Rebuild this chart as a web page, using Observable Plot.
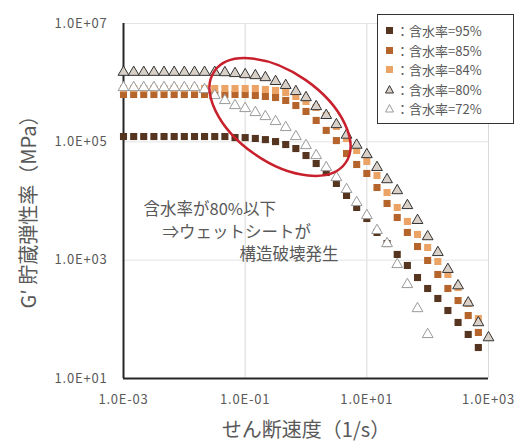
<!DOCTYPE html>
<html>
<head>
<meta charset="utf-8">
<script src="https://cdn.jsdelivr.net/npm/d3@7"></script>
<script src="https://cdn.jsdelivr.net/npm/@observablehq/plot@0.6"></script>
<style>
  body { margin: 0; background: #fff; }
  #wrap { position: relative; width: 516px; height: 446px; }
  .legend {
    position: absolute; left: 377px; top: 14px; width: 137px; height: 110px;
    border: 1.5px solid #333; background: #fff; box-sizing: border-box;
    font-family: "Noto Sans CJK JP", sans-serif; font-size: 13px; color: #595959;
    padding: 6px 0 0 6px;
  }
  .legend .row { display: flex; align-items: center; height: 19.5px; white-space: nowrap; }
  .legend svg { margin-right: 1px; }
</style>
</head>
<body>
<div id="wrap"></div>
<script>
// Shear rate sweep (1/s): 6 points per decade, 1e-3 .. 1e3
const shearRate = [0.001, 0.00147, 0.00215, 0.00316, 0.00464, 0.00681, 0.01, 0.0147, 0.0215, 0.0316,
  0.0464, 0.0681, 0.1, 0.147, 0.215, 0.316, 0.464, 0.681, 1, 1.47, 2.15, 3.16, 4.64, 6.81,
  10, 14.7, 21.5, 31.6, 46.4, 68.1, 100, 147, 215, 316, 464, 681, 1000];

// Storage modulus G' for each water content
const g95 = [1.23e5, 1.23e5, 1.23e5, 1.23e5, 1.23e5, 1.23e5, 1.23e5, 1.23e5, 1.23e5, 1.23e5, 1.23e5,
  1.18e5, 1.18e5, 1.14e5, 1.09e5, 1.01e5, 9.0e4, 7.7e4, 5.87e4, 4.3e4, 3.03e4, 1.98e4, 1.24e4,
  7.77e3, 5.06e3, 2.94e3, 1.91e3, 1.25e3, 813, 509, 332, 225, 141, 88.5, 55.5, 33.4];
const g85 = [6.31e5, 6.31e5, 6.31e5, 6.31e5, 6.31e5, 6.31e5, 6.31e5, 6.31e5, 6.31e5, 6.31e5, 6.31e5,
  6.31e5, 6.31e5, 6.07e5, 5.84e5, 5.61e5, 5.0e5, 4.11e5, 3.26e5, 2.3e5, 1.56e5, 1.05e5, 6.35e4,
  4.14e4, 2.92e4, 1.69e4, 9.08e3, 5.26e3, 2.94e3, 1.7e3, 988, 573, 332, 208, 116, 60];
const g84 = [7.96e5, 7.96e5, 7.96e5, 7.96e5, 7.96e5, 7.96e5, 7.96e5, 7.96e5, 7.96e5, 7.96e5, 7.96e5,
  7.96e5, 7.96e5, 7.96e5, 7.67e5, 7.38e5, 6.82e5, 5.84e5, 4.81e5, 3.8e5, 2.79e5, 1.82e5, 1.14e5,
  7.14e4, 4.66e4, 2.7e4, 1.39e4, 7.77e3, 4.51e3, 2.72e3, 1.64e3, 950, 573, 345, 185, 103];
const g80 = [1.5e6, 1.5e6, 1.5e6, 1.5e6, 1.5e6, 1.5e6, 1.5e6, 1.5e6, 1.5e6, 1.5e6, 1.48e6,
  1.43e6, 1.37e6, 1.32e6, 1.22e6, 1.05e6, 9.0e5, 7.1e5, 5.6e5, 3.95e5, 2.8e5, 1.96e5, 1.3e5,
  8.8e4, 6.1e4, 3.7e4, 2.3e4, 1.5e4, 8.4e3, 4.7e3, 2.5e3, 1.35e3, 700, 370, 190, 88, 49];
const g72 = [8.28e5, 8.28e5, 8.28e5, 8.28e5, 8.28e5, 8.28e5, 8.28e5, 8.28e5, 7.67e5, 6.07e5, 5.0e5,
  4.11e5, 3.66e5, 3.13e5, 2.68e5, 2.21e5, 1.75e5, 1.23e5, 8.67e4, 5.87e4, 3.68e4, 2.49e4, 1.57e4,
  9.44e3, 5.69e3, 3.18e3, 1.91e3, 845, 388, 152, 55.5];

const seriesLabels = ["含水率=95%", "含水率=85%", "含水率=84%", "含水率=80%", "含水率=72%"];

const xTicks = [1e-3, 1e-1, 1e1, 1e3];
const xTickLabels = ["1.0E-03", "1.0E-01", "1.0E+01", "1.0E+03"];
const yTicks = [1e1, 1e3, 1e5, 1e7];
const yTickLabels = ["1.0E+01", "1.0E+03", "1.0E+05", "1.0E+07"];

const xTitle = "せん断速度（1/s）";
const yTitle = "G′ 貯蔵弾性率（MPa）";
const noteLines = ["含水率が80%以下", "⇒ウェットシートが", "構造破壊発生"];
// anchor positions of the note lines, in data units (shear rate, G')
const noteX = [0.00213, 0.00437, 0.0807];
const noteY = [7200, 2940, 1250];

// highlighted region: centre in data units
const ringCentre = [0.381, 2.58e5];

const styles = [
  {symbol: "square", fill: "#55351f", stroke: "none"},
  {symbol: "square", fill: "#b5652b", stroke: "none"},
  {symbol: "square", fill: "#eba466", stroke: "none"},
  {symbol: "triangle", fill: "#d9d0c8", stroke: "#333333"},
  {symbol: "triangle", fill: "#ffffff", stroke: "#9a9a9a"}
];

const seriesValues = [g95, g85, g84, g80, g72];
const table = seriesValues.map((vals, s) =>
  vals.map((g, i) => ({rate: shearRate[i], g, s})));

// look up the printed label of a tick by its decade
const labelFor = (ticks, labels) => (d) => {
  const k = ticks.findIndex((t) => Math.abs(Math.log10(t) - Math.log10(d)) < 1e-6);
  return k < 0 ? "" : labels[k];
};

const font = '"Noto Sans CJK JP", sans-serif';

const plot = Plot.plot({
  width: 516,
  height: 446,
  marginLeft: 123,
  marginRight: 28,
  marginTop: 23,
  marginBottom: 68,
  style: {fontFamily: font, background: "#fff", color: "#595959"},
  x: {type: "log", domain: [1e-3, 1e3]},
  y: {type: "log", domain: [10, 1e7]},
  marks: [
    Plot.gridX(xTicks.slice(1), {stroke: "#d9d9d9", strokeOpacity: 1}),
    Plot.gridY(yTicks.slice(1), {stroke: "#e3e3e3", strokeOpacity: 1}),
    Plot.axisX({ticks: xTicks, tickSize: 0, tickPadding: 16, fontSize: 13,
      tickFormat: labelFor(xTicks, xTickLabels), label: null}),
    Plot.axisY({ticks: yTicks, tickSize: 0, tickPadding: 16, fontSize: 13,
      tickFormat: labelFor(yTicks, yTickLabels), label: null}),
    Plot.ruleX([1e-3], {stroke: "#262626", strokeWidth: 2}),
    Plot.ruleY([10], {x1: 1e-3, x2: 1e3, stroke: "#262626", strokeWidth: 2}),
    ...table.map((rows, s) => Plot.dot(rows, {
      x: "rate", y: "g", r: 4,
      symbol: styles[s].symbol, fill: styles[s].fill, stroke: styles[s].stroke,
      strokeWidth: 1
    })),
    ...noteLines.map((t, k) => Plot.text([t], {
      x: () => noteX[k], y: () => noteY[k], textAnchor: "start",
      fontSize: 16.5, fill: "#595959"
    })),
    Plot.text([xTitle], {frameAnchor: "bottom", dy: 58, fontSize: 20, fill: "#595959"}),
    Plot.text([yTitle], {frameAnchor: "left", textAnchor: "middle", dx: -94, dy: 6,
      rotate: -90, fontSize: 20, fill: "#595959"})
  ]
});

// tick labels are set a little apart, like the source typeface
plot.querySelectorAll("[aria-label^='x-axis tick label'] text, [aria-label^='y-axis tick label'] text")
  .forEach((t) => t.setAttribute("letter-spacing", "0.8"));

// red ring around the region where the drier sheets break down
{
  const sx = plot.scale("x"), sy = plot.scale("y");
  const cx = sx.apply(ringCentre[0]), cy = sy.apply(ringCentre[1]);
  const ns = "http://www.w3.org/2000/svg";
  const el = document.createElementNS(ns, "ellipse");
  el.setAttribute("cx", cx);
  el.setAttribute("cy", cy);
  el.setAttribute("rx", 80);
  el.setAttribute("ry", 45);
  el.setAttribute("transform", `rotate(35 ${cx} ${cy})`);
  el.setAttribute("fill", "none");
  el.setAttribute("stroke", "#c8202c");
  el.setAttribute("stroke-width", 2.5);
  plot.appendChild(el);
}

const wrap = document.getElementById("wrap");
wrap.appendChild(plot);

// legend box
const legend = document.createElement("div");
legend.className = "legend";
seriesLabels.forEach((label, s) => {
  const row = document.createElement("div");
  row.className = "row";
  const st = styles[s];
  const shape = st.symbol === "square"
    ? `<rect x="2" y="2" width="7" height="7" fill="${st.fill}"/>`
    : `<path d="M5.5 1.5 L9.5 9 L1.5 9 Z" fill="${st.fill}" stroke="${st.stroke}" stroke-width="1"/>`;
  row.innerHTML = `<svg width="11" height="11">${shape}</svg><span>：${label}</span>`;
  legend.appendChild(row);
});
wrap.appendChild(legend);
</script>
</body>
</html>
